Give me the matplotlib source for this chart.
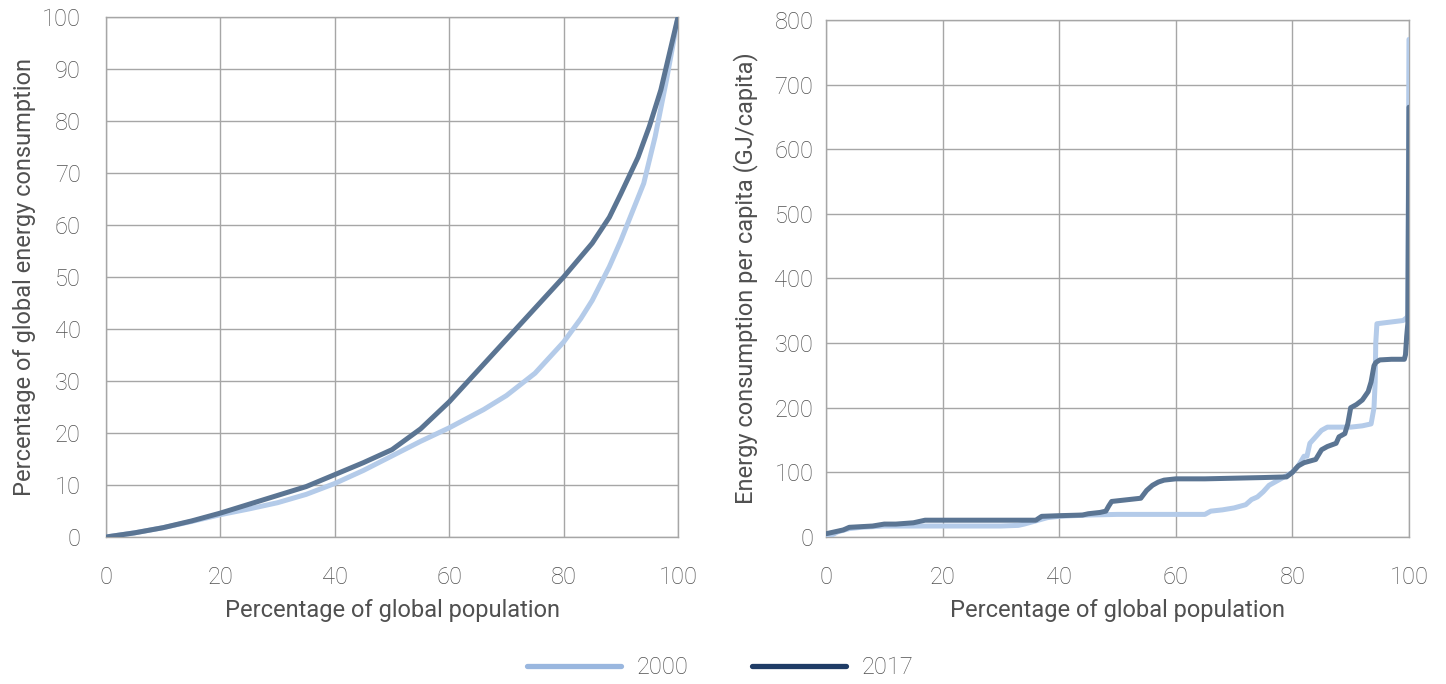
import matplotlib
matplotlib.use("Agg")
import matplotlib.pyplot as plt
from matplotlib.lines import Line2D

plt.rcParams['font.family'] = ['Roboto', 'DejaVu Sans']
plt.rcParams['font.weight'] = 'light'

# Left panel: Lorenz-type curves (percentage of population vs percentage of energy)
lorenz_x_2000 = [0, 5, 10, 15, 20, 25, 30, 35, 40, 45, 50, 55, 60, 66, 70, 75, 80, 83, 85, 88, 90, 92, 94, 96, 98, 100]
lorenz_y_2000 = [0, 0.8, 1.8, 3.0, 4.3, 5.4, 6.6, 8.2, 10.3, 12.8, 15.6, 18.4, 21.0, 24.5, 27.2, 31.5, 37.5, 42.0, 45.5, 52.0, 57.0, 62.5, 68.0, 77.0, 88.0, 100]
lorenz_x_2017 = [0, 5, 10, 15, 20, 25, 30, 35, 40, 45, 50, 55, 60, 65, 70, 75, 80, 85, 88, 90, 93, 95, 97, 100]
lorenz_y_2017 = [0, 0.8, 1.8, 3.1, 4.6, 6.3, 8.0, 9.7, 12.0, 14.3, 16.8, 20.8, 26.0, 32.0, 38.0, 44.0, 50.0, 56.5, 61.5, 66.0, 73.0, 79.0, 86.0, 100]

# Right panel: energy consumption per capita (GJ/capita)
pc_x_2000 = [0, 1, 2, 4, 6, 10, 20, 30, 33, 34, 36, 38, 40, 45, 50, 60, 65, 66, 68, 70, 72, 73, 74, 75, 76, 77, 78, 79, 80,
             81, 82, 82.5, 83, 84, 85, 86, 88, 90, 92, 93.5, 94, 94.2, 94.3, 94.5, 99, 99.7, 99.8, 100]
pc_y_2000 = [0, 3, 8, 13, 15, 17, 17, 17, 18, 20, 25, 30, 32, 34, 35, 35, 35, 40, 42, 45, 50, 58, 62, 70, 80, 85, 90, 95, 100,
             110, 125, 125, 145, 155, 165, 170, 170, 170, 172, 175, 200, 240, 300, 330, 335, 340, 340, 770]
pc_x_2017 = [0, 1, 2, 3, 4, 6, 8, 10, 12, 15, 17, 20, 25, 30, 36, 37, 40, 44, 45, 47, 48, 48.5, 49, 52, 54, 55, 56, 57, 58, 60,
             65, 70, 75, 79, 80, 81, 82, 84, 85, 86, 87.5, 88, 89, 89.5, 90, 91, 92, 93, 93.5, 94, 94.3, 95, 97, 99.2,
             99.4, 99.6, 99.8, 100]
pc_y_2017 = [5, 7, 9, 11, 15, 16, 17, 20, 20, 22, 26, 26, 26, 26, 26, 32, 33, 34, 36, 38, 40, 48, 55, 58, 60, 72, 80, 85, 88, 90,
             90, 91, 92, 93, 100, 110, 115, 120, 135, 140, 145, 155, 160, 175, 200, 205, 212, 225, 240, 265, 270, 274, 275, 275,
             282, 310, 330, 665]

x_ticks = [0, 20, 40, 60, 80, 100]
left_y_ticks = [0, 10, 20, 30, 40, 50, 60, 70, 80, 90, 100]
right_y_ticks = [0, 100, 200, 300, 400, 500, 600, 700, 800]

series_labels = ['2000', '2017']
line_colors = ['#b4cbe9', '#5b7593']
legend_colors = ['#9ab7df', '#1f3c66']

text_color = '#505050'
grid_color = '#a6a6a6'
fs = 17

fig = plt.figure(figsize=(14.46, 6.84), dpi=100)
ax1 = fig.add_axes([0.0733, 0.2149, 0.3956, 0.7602])
ax2 = fig.add_axes([0.5712, 0.2149, 0.4032, 0.7559])

ax1.plot(lorenz_x_2000, lorenz_y_2000, color=line_colors[0], lw=3.6, solid_capstyle='round', zorder=3)
ax1.plot(lorenz_x_2017, lorenz_y_2017, color=line_colors[1], lw=3.6, solid_capstyle='round', zorder=4)
ax2.plot(pc_x_2000, pc_y_2000, color=line_colors[0], lw=3.6, solid_capstyle='round', solid_joinstyle='round', zorder=3)
ax2.plot(pc_x_2017, pc_y_2017, color=line_colors[1], lw=3.6, solid_capstyle='round', solid_joinstyle='round', zorder=4)

for ax, yt, ylab, ypad, ylpad in [(ax1, left_y_ticks, 'Percentage of global energy consumption', 18, 4),
                                  (ax2, right_y_ticks, 'Energy consumption per capita (GJ/capita)', 9, 12)]:
    ax.set_xlim(0, 100)
    ax.set_ylim(yt[0], yt[-1])
    ax.set_xticks(x_ticks)
    ax.set_yticks(yt)
    ax.grid(True, color=grid_color, lw=1.0)
    ax.set_axisbelow(True)
    for s in ax.spines.values():
        s.set_color(grid_color)
        s.set_linewidth(1.0)
    ax.tick_params(length=0, labelsize=fs, colors=text_color)
    ax.tick_params(axis='x', pad=21)
    ax.tick_params(axis='y', pad=ypad)
    ax.set_xlabel('Percentage of global population', fontsize=fs, color=text_color, labelpad=7)
    ax.set_ylabel(ylab, fontsize=fs, color=text_color, labelpad=ylpad)

handles = [Line2D([0], [0], color=c, lw=3.8, solid_capstyle='round') for c in legend_colors]
fig.legend(handles, series_labels, loc='center', bbox_to_anchor=(0.498, 0.0234), ncol=2, frameon=False,
           fontsize=fs, handlelength=4.0, columnspacing=2.7, handletextpad=0.65, labelcolor=text_color,
           borderpad=0, borderaxespad=0)

fig.savefig('out.png', dpi=100)
